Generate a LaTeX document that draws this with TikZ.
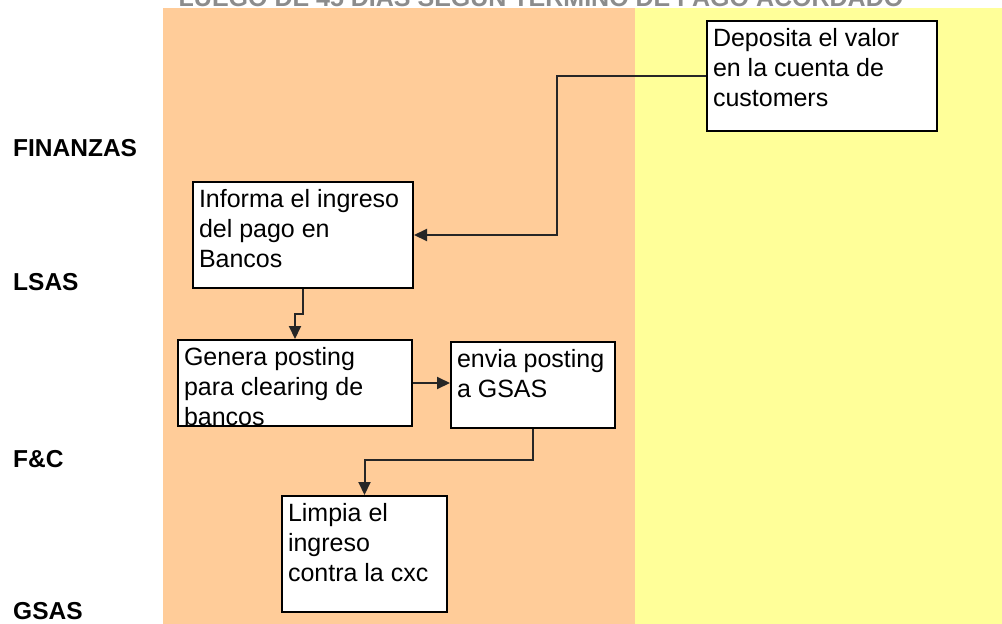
\documentclass[tikz,border=0pt]{standalone}
\usepackage{fontspec}
\setmainfont{Liberation Sans}
\usetikzlibrary{arrows.meta}
\definecolor{laneorange}{HTML}{FFCC99}
\definecolor{laneyellow}{HTML}{FFFF99}
\definecolor{titlegray}{HTML}{8C8C8C}
\tikzset{
  x=1pt, y=-1pt,
  flowbox/.style n args={3}{draw=black, fill=white, line width=2pt,
    anchor=north west, inner sep=0pt, minimum width=#1, minimum height=#2,
    path picture={\node[anchor=north west, inner sep=0pt, align=left,
      draw=none, fill=none, minimum width=0pt, minimum height=0pt,
      font=\fontsize{25}{30}\selectfont]
      at ([xshift=5pt,yshift=-6.5pt]path picture bounding box.north west) {#3};}},
  flow/.style={draw=black!85, line width=2pt,
    -{Triangle[length=13pt,width=12pt]}},
  lanelabel/.style={anchor=base west, inner sep=0pt,
    font=\bfseries\fontsize{24.5}{28}\selectfont}
}
\begin{document}
\begin{tikzpicture}
\useasboundingbox (0,0) rectangle (1002,624);
\clip (0,0) rectangle (1002,624);
\fill[white] (0,0) rectangle (1002,624);

% swimlane columns
\fill[laneorange] (163,8) rectangle (635,624);
\fill[laneyellow] (635,8) rectangle (1002,624);

% heading
\node[anchor=base, inner sep=0pt, text=titlegray,
  font=\bfseries\fontsize{25}{28}\selectfont] (title) at (541,6)
  {LUEGO DE 45 DIAS SEGUN TERMINO DE PAGO ACORDADO};

% row labels
\node[lanelabel] (finanzas) at (13,156) {FINANZAS};
\node[lanelabel] (lsas) at (13,290) {LSAS};
\node[lanelabel] (fc) at (13,467) {F\&C};
\node[lanelabel] (gsas) at (13,619) {GSAS};

% process steps
\node[flowbox={230pt}{110pt}{Deposita el valor\\en la cuenta de\\customers}] (dep) at (706,20) {};
\node[flowbox={220pt}{106pt}{Informa el ingreso\\del pago en\\Bancos}] (inf) at (192,181) {};
\node[flowbox={234pt}{86pt}{Genera posting\\para clearing de\\bancos}] (gen) at (177,339) {};
\node[flowbox={164pt}{86pt}{envia posting\\a GSAS}] (env) at (450,341) {};
\node[flowbox={165pt}{116pt}{Limpia el\\ingreso\\contra la cxc}] (lim) at (281,495) {};

% connectors
\coordinate (bend) at (557,0);
\draw[flow] (dep.west) -| (bend |- inf.east) -- (inf.east);
\draw[flow] (inf.south) -- ++(0,25) -| (gen.north);
\draw[flow] (gen.east) -- (gen.east -| env.west);
\draw[flow] (env.south) -- ++(0,31) -| (lim.north);
\end{tikzpicture}
\end{document}
